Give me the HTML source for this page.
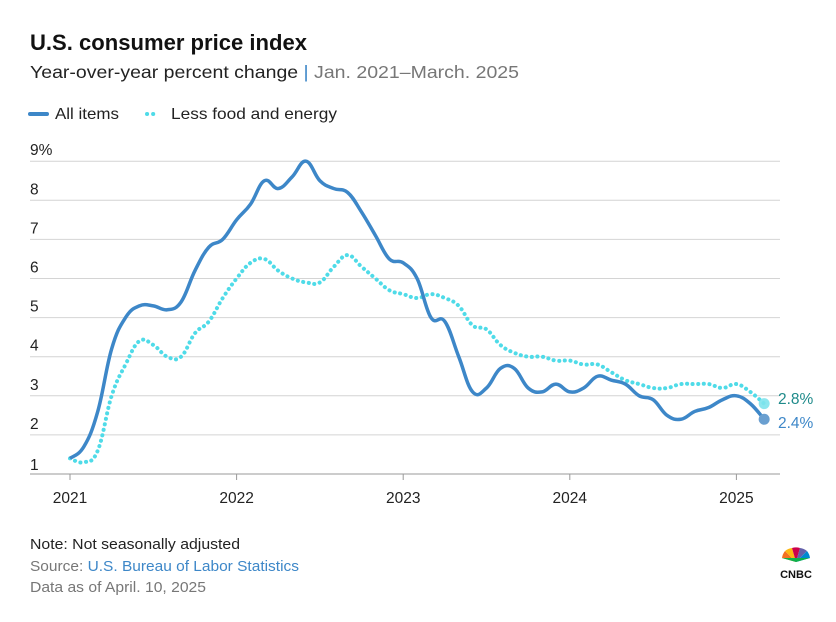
<!DOCTYPE html>
<html><head><meta charset="utf-8"><style>
body{margin:0;background:#fff;font-family:"Liberation Sans",sans-serif;}
svg text{font-family:"Liberation Sans",sans-serif;}
</style></head><body>
<svg id="s" width="836" height="617" xmlns="http://www.w3.org/2000/svg">
<rect width="836" height="617" fill="#fff"/>
<text x="30" y="50" font-size="22" font-weight="bold" fill="#111" textLength="277" lengthAdjust="spacingAndGlyphs">U.S. consumer price index</text>
<text x="30" y="78" font-size="17.5" fill="#222" textLength="489" lengthAdjust="spacingAndGlyphs">Year-over-year percent change <tspan fill="#3d87c8">|</tspan> <tspan fill="#777">Jan. 2021–March. 2025</tspan></text>
<line x1="30" y1="114" x2="47" y2="114" stroke="#3d87c8" stroke-width="4" stroke-linecap="round"/>
<text x="55" y="119" font-size="16" fill="#222" textLength="64" lengthAdjust="spacingAndGlyphs">All items</text>
<line x1="147" y1="114" x2="159" y2="114" stroke="#4fdbe8" stroke-width="4" stroke-linecap="round" stroke-dasharray="0.1 6"/>
<text x="171" y="119" font-size="16" fill="#222" textLength="166" lengthAdjust="spacingAndGlyphs">Less food and energy</text>
<g id="grid" stroke="#d4d4d4" stroke-width="1"></g>
<g id="lab" font-size="15.5" fill="#222"></g>
<path id="core" fill="none" stroke="#4fdbe8" stroke-width="4" stroke-linecap="round" stroke-dasharray="0.1 5.5"/>
<path id="all" fill="none" stroke="#3d87c8" stroke-width="3.5" stroke-linejoin="round"/>
<circle id="c1" r="5.5" fill="#7fe3ec" opacity="0.9"/>
<circle id="c2" r="5.5" fill="#6a9fd0"/>
<text x="778" y="404" font-size="15.5" fill="#1e8a8a">2.8%</text>
<text x="778" y="428" font-size="15.5" fill="#3d87c8">2.4%</text>
<text x="30" y="549" font-size="15" fill="#222" textLength="210" lengthAdjust="spacingAndGlyphs">Note: Not seasonally adjusted</text>
<text x="30" y="571" font-size="15" fill="#777" textLength="269" lengthAdjust="spacingAndGlyphs">Source: <tspan fill="#3d87c8">U.S. Bureau of Labor Statistics</tspan></text>
<text x="30" y="592" font-size="15" fill="#777" textLength="176" lengthAdjust="spacingAndGlyphs">Data as of April. 10, 2025</text>
<g transform="translate(796,562)">
<path d="M0,0 L-14,-4 A14,14 0 0 1 -11,-11Z" fill="#f37021"/>
<path d="M0,0 L-11,-11 A14,14 0 0 1 -4,-14Z" fill="#fcb711"/>
<path d="M0,0 L-4,-14 A14,14 0 0 1 4,-14Z" fill="#cc004c"/>
<path d="M0,0 L4,-14 A14,14 0 0 1 11,-11Z" fill="#6460aa"/>
<path d="M0,0 L11,-11 A14,14 0 0 1 14,-4Z" fill="#0089d0"/>
<path d="M0,0 L14,-4 L-14,-4Z" fill="#0db14b"/>
</g>
<text x="796" y="578" font-size="11" font-weight="bold" fill="#111" text-anchor="middle">CNBC</text>
</svg>
<script>
var ns="http://www.w3.org/2000/svg";
function Y(v){return 474-(v-1)*39.1;}
function X(i){return 70+i*166.6/12;}
var g=document.getElementById("grid"),l=document.getElementById("lab");
for(var v=1;v<=9;v++){var ln=document.createElementNS(ns,"line");ln.setAttribute("x1",30);ln.setAttribute("x2",780);ln.setAttribute("y1",Y(v));ln.setAttribute("y2",Y(v));if(v==1)ln.setAttribute("stroke","#999");g.appendChild(ln);
var t=document.createElementNS(ns,"text");t.setAttribute("x",30);t.setAttribute("y",Y(v)-6);t.textContent=v==9?"9%":v;if(v==1)t.setAttribute("y",Y(v)-4);l.appendChild(t);}
for(var k=0;k<5;k++){var x=X(k*12);var tk=document.createElementNS(ns,"line");tk.setAttribute("x1",x);tk.setAttribute("x2",x);tk.setAttribute("y1",474);tk.setAttribute("y2",480);tk.setAttribute("stroke","#999");g.appendChild(tk);
var t=document.createElementNS(ns,"text");t.setAttribute("x",x);t.setAttribute("y",503);t.setAttribute("text-anchor","middle");t.textContent=2021+k;l.appendChild(t);}
var all=[1.4,1.7,2.6,4.2,5.0,5.3,5.3,5.2,5.4,6.2,6.8,7.0,7.5,7.9,8.5,8.3,8.6,9.0,8.5,8.3,8.2,7.7,7.1,6.5,6.4,6.0,5.0,4.9,4.0,3.1,3.2,3.7,3.7,3.2,3.1,3.3,3.1,3.2,3.5,3.4,3.3,3.0,2.9,2.5,2.4,2.6,2.7,2.9,3.0,2.8,2.4];
var core=[1.4,1.3,1.6,3.0,3.8,4.4,4.3,4.0,4.0,4.6,4.9,5.5,6.0,6.4,6.5,6.2,6.0,5.9,5.9,6.3,6.6,6.3,6.0,5.7,5.6,5.5,5.6,5.5,5.3,4.8,4.7,4.3,4.1,4.0,4.0,3.9,3.9,3.8,3.8,3.6,3.4,3.3,3.2,3.2,3.3,3.3,3.3,3.2,3.3,3.1,2.8];
function path(d){var p=d.map(function(v,i){return[X(i),Y(v)]});var s="M"+p[0][0]+","+p[0][1];
for(var i=0;i<p.length-1;i++){var p0=p[Math.max(0,i-1)],p1=p[i],p2=p[i+1],p3=p[Math.min(p.length-1,i+2)];var t=0.2;
s+="C"+(p1[0]+(p2[0]-p0[0])*t)+","+(p1[1]+(p2[1]-p0[1])*t)+" "+(p2[0]-(p3[0]-p1[0])*t)+","+(p2[1]-(p3[1]-p1[1])*t)+" "+p2[0]+","+p2[1];}return s;}
document.getElementById("all").setAttribute("d",path(all));
document.getElementById("core").setAttribute("d",path(core));
var n=all.length-1;
document.getElementById("c2").setAttribute("cx",X(n));document.getElementById("c2").setAttribute("cy",Y(2.4));
document.getElementById("c1").setAttribute("cx",X(n));document.getElementById("c1").setAttribute("cy",Y(2.8));
</script>
</body></html>
